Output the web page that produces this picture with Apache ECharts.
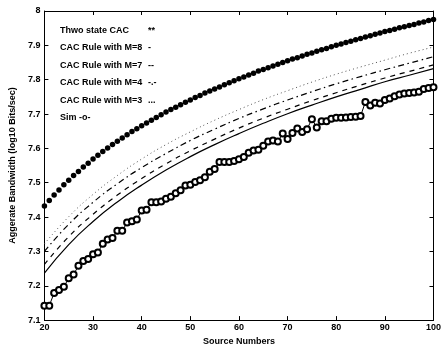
<!DOCTYPE html>
<html>
<head>
<meta charset="utf-8">
<script src="https://cdn.jsdelivr.net/npm/echarts@6/dist/echarts.min.js"></script>
<style>
  html, body {margin: 0; padding: 0; background: #fff;}
  #chart {width: 444px; height: 351px;}
</style>
</head>
<body>
<div id="chart"></div>
<script>
// x values: every source number, and the coarser grid used for the smooth CAC curves
const sourceNumbers = [20,21,22,23,24,25,26,27,28,29,30,31,32,33,34,35,36,37,38,39,40,41,42,43,44,45,46,47,48,49,50,51,52,53,54,55,56,57,58,59,60,61,62,63,64,65,66,67,68,69,70,71,72,73,74,75,76,77,78,79,80,81,82,83,84,85,86,87,88,89,90,91,92,93,94,95,96,97,98,99,100]
const curveSources = [20,25,30,35,40,45,50,55,60,65,70,75,80,85,90,95,100]

const twoStateCAC = [7.432,7.448,7.464,7.479,7.494,7.507,7.521,7.533,7.546,7.557,7.569,7.580,7.591,7.601,7.611,7.621,7.630,7.640,7.649,7.657,7.666,7.674,7.682,7.690,7.698,7.706,7.713,7.720,7.727,7.734,7.741,7.748,7.754,7.761,7.767,7.773,7.779,7.785,7.791,7.797,7.803,7.808,7.814,7.819,7.825,7.830,7.835,7.840,7.845,7.850,7.855,7.860,7.864,7.869,7.874,7.878,7.883,7.887,7.891,7.896,7.900,7.904,7.908,7.912,7.916,7.920,7.924,7.928,7.932,7.936,7.940,7.943,7.947,7.951,7.954,7.958,7.961,7.965,7.968,7.972,7.975]

const ruleM8 = [7.237,7.320,7.387,7.444,7.493,7.537,7.576,7.611,7.643,7.673,7.701,7.726,7.750,7.772,7.794,7.813,7.832]
const ruleM7 = [7.262,7.343,7.408,7.464,7.512,7.555,7.593,7.627,7.659,7.688,7.714,7.739,7.762,7.784,7.805,7.824,7.843]
const ruleM4 = [7.300,7.379,7.443,7.497,7.544,7.585,7.623,7.656,7.687,7.715,7.741,7.765,7.788,7.809,7.829,7.848,7.867]
const ruleM3 = [7.322,7.401,7.466,7.521,7.569,7.611,7.648,7.682,7.713,7.742,7.768,7.793,7.816,7.837,7.857,7.877,7.895]

const simulated = [7.142,7.142,7.179,7.188,7.197,7.222,7.233,7.258,7.272,7.278,7.292,7.297,7.322,7.335,7.339,7.360,7.360,7.384,7.388,7.393,7.419,7.421,7.443,7.443,7.445,7.453,7.459,7.469,7.478,7.492,7.494,7.502,7.507,7.516,7.532,7.540,7.560,7.560,7.560,7.563,7.568,7.575,7.587,7.594,7.596,7.608,7.620,7.623,7.620,7.643,7.627,7.645,7.658,7.648,7.656,7.685,7.661,7.679,7.679,7.686,7.689,7.689,7.690,7.691,7.692,7.694,7.735,7.725,7.733,7.731,7.741,7.745,7.752,7.757,7.760,7.761,7.763,7.765,7.773,7.776,7.778]

// legend samples drawn as text after each label
const legendGlyphs = {
  'Thwo state CAC': '**',
  'CAC Rule with M=8': '-',
  'CAC Rule with M=7': '--',
  'CAC Rule with M=4': '-.-',
  'CAC Rule with M=3': '...',
  'Sim': '-o-'
}

const pairs = (xs, ys) => xs.map((x, i) => [x, ys[i]])
const ink = '#000'
const font = {fontFamily: 'Liberation Sans, Arial, sans-serif', fontWeight: 'bold', fontSize: 9, color: ink}

const xBase = {
  type: 'value', min: 20, max: 100, interval: 10,
  axisLine: {show: true, lineStyle: {color: ink, width: 1}},
  axisTick: {show: true, inside: true, length: 4, lineStyle: {color: ink}},
  splitLine: {show: false}
}
const yBase = {
  type: 'value', min: 7.1, max: 8, interval: 0.1,
  axisLine: {show: true, lineStyle: {color: ink, width: 1}},
  axisTick: {show: true, inside: true, length: 4, lineStyle: {color: ink}},
  splitLine: {show: false}
}

const chart = echarts.init(document.getElementById('chart'))
chart.setOption({
  animation: false,
  backgroundColor: '#fff',
  grid: {left: 36, right: 2, top: 11, bottom: 22},
  legend: {
    orient: 'vertical',
    left: 50, top: 20,
    icon: 'none',
    itemWidth: 0, itemHeight: 11, itemGap: 7.5,
    selectedMode: false,
    data: Object.keys(legendGlyphs),
    formatter: (name) => name === 'Sim'
      ? '{n|Sim ' + legendGlyphs[name] + '}'
      : '{w|' + name + '}{g|' + legendGlyphs[name] + '}',
    textStyle: {
      ...font,
      rich: {
        w: {...font, width: 88},
        n: {...font},
        g: {...font}
      }
    }
  },
  xAxis: [
    {...xBase, position: 'bottom',
      name: 'Source Numbers', nameLocation: 'middle', nameGap: 12,
      nameTextStyle: {...font},
      axisLabel: {...font, margin: 3}},
    {...xBase, position: 'top', axisLabel: {show: false}}
  ],
  yAxis: [
    {...yBase, position: 'left',
      name: 'Aggerate Bandwidth (log10 Bits/sec)', nameLocation: 'middle', nameGap: 21,
      nameTextStyle: {...font},
      axisLabel: {...font, margin: 4}},
    {...yBase, position: 'right', axisLabel: {show: false}}
  ],
  series: [
    {
      name: 'Thwo state CAC', type: 'scatter',
      data: pairs(sourceNumbers, twoStateCAC),
      symbol: 'circle', symbolSize: 5.5,
      itemStyle: {color: ink, opacity: 1}
    },
    {
      name: 'CAC Rule with M=8', type: 'line', smooth: true, showSymbol: false,
      data: pairs(curveSources, ruleM8),
      lineStyle: {color: ink, width: 1.2, type: 'solid'}
    },
    {
      name: 'CAC Rule with M=7', type: 'line', smooth: true, showSymbol: false,
      data: pairs(curveSources, ruleM7),
      lineStyle: {color: ink, width: 1.2, type: [5, 5]}
    },
    {
      name: 'CAC Rule with M=4', type: 'line', smooth: true, showSymbol: false,
      data: pairs(curveSources, ruleM4),
      lineStyle: {color: ink, width: 1.2, type: [6, 3.5, 1.5, 3.5]}
    },
    {
      name: 'CAC Rule with M=3', type: 'line', smooth: true, showSymbol: false,
      data: pairs(curveSources, ruleM3),
      lineStyle: {color: '#555', width: 1, type: [1, 3]}
    },
    {
      name: 'Sim', type: 'line',
      data: pairs(sourceNumbers, simulated),
      symbol: 'emptyCircle', symbolSize: 6, showAllSymbol: true,
      lineStyle: {color: ink, width: 1},
      itemStyle: {color: ink, borderWidth: 1.1}
    }
  ]
})
</script>
</body>
</html>
